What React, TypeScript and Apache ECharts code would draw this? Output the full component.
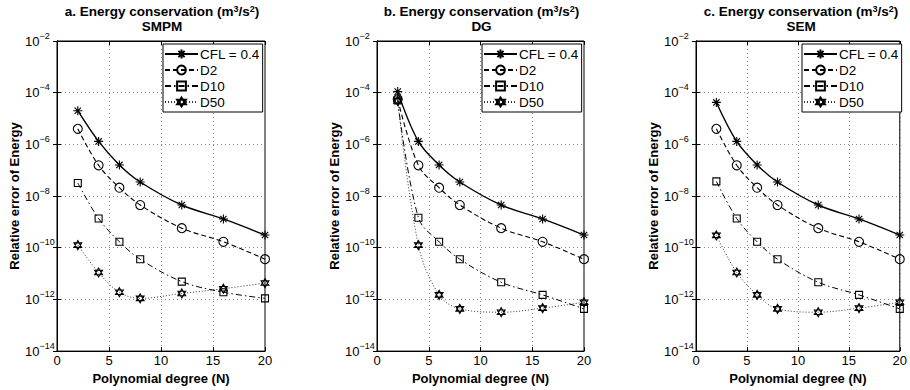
import React, { useEffect, useRef } from "react";
import * as echarts from "echarts";

// ---------- data ----------
const degrees = [2, 4, 6, 8, 12, 16, 20];

const smpmCFL = [2e-5, 1.3e-6, 1.6e-7, 3.5e-8, 4.5e-9, 1.3e-9, 3.1e-10];
const smpmD2 = [4e-6, 1.55e-7, 2.1e-8, 4.5e-9, 5.7e-10, 1.7e-10, 3.6e-11];
const smpmD10 = [3.2e-8, 1.35e-9, 1.7e-10, 3.6e-11, 4.9e-12, 1.9e-12, 1.1e-12];
const smpmD50 = [1.26e-10, 1.1e-11, 1.9e-12, 1.1e-12, 1.7e-12, 2.6e-12, 4.3e-12];

const dgCFL = [1.1e-4, 1.3e-6, 1.6e-7, 3.5e-8, 4.5e-9, 1.3e-9, 3.1e-10];
const dgD2 = [5.6e-5, 1.55e-7, 2.1e-8, 4.5e-9, 5.7e-10, 1.7e-10, 3.6e-11];
const dgD10 = [5e-5, 1.45e-9, 1.7e-10, 3.6e-11, 4.6e-12, 1.5e-12, 4.3e-13];
const dgD50 = [4.8e-5, 1.26e-10, 1.5e-12, 4.3e-13, 3.2e-13, 4.6e-13, 7.8e-13];

const semCFL = [4.2e-5, 1.3e-6, 1.6e-7, 3.5e-8, 4.5e-9, 1.3e-9, 3.1e-10];
const semD2 = [4e-6, 1.55e-7, 2.1e-8, 4.5e-9, 5.7e-10, 1.7e-10, 3.6e-11];
const semD10 = [3.7e-8, 1.35e-9, 1.7e-10, 3.6e-11, 4.6e-12, 1.5e-12, 4.3e-13];
const semD50 = [3e-10, 1.1e-11, 1.5e-12, 4.3e-13, 3.2e-13, 4.6e-13, 7.8e-13];

const seriesNames = ["CFL = 0.4", "D2", "D10", "D50"];
const panelLetters = ["a", "b", "c"];
const panelMethods = ["SMPM", "DG", "SEM"];
const panelSeries = [
  [smpmCFL, smpmD2, smpmD10, smpmD50],
  [dgCFL, dgD2, dgD10, dgD50],
  [semCFL, semD2, semD10, semD50],
];
const xAxisLabel = "Polynomial degree (N)";
const yAxisLabel = "Relative error of Energy";

// ---------- styles ----------
const FONT = '"Liberation Sans", Arial, Helvetica, sans-serif';
const gridLefts = [57, 377, 696];
const gridWidths = [208, 207, 208];
const legendLefts = [163, 482, 802];
const GRID_TOP = 41;
const GRID_HEIGHT = 311;

const ASTERISK = "path://M0,-10 L0,10 M-10,0 L10,0 M-7.07,-7.07 L7.07,7.07 M-7.07,7.07 L7.07,-7.07";
const HEXAGRAM = "path://M0,-10 L8.66,5 L-8.66,5 Z M0,10 L8.66,-5 L-8.66,-5 Z";

const seriesLook = [
  { symbol: ASTERISK, size: 9, type: "solid" as any, width: 1.4, color: "#000" },
  { symbol: "circle", size: 9, type: [5, 3] as any, width: 1.1, color: "#000" },
  { symbol: "rect", size: 7, type: [6, 3, 1.5, 3] as any, width: 1, color: "#000" },
  { symbol: HEXAGRAM, size: 9, type: [1, 2] as any, width: 1, color: "#333" },
];

export default function App() {
  const ref = useRef<HTMLDivElement>(null);

  useEffect(() => {
    document.body.style.margin = "0";
    if (!ref.current) return;
    const chart = echarts.init(ref.current, null, { renderer: "svg" });

    const grids = panelLetters.map((_, i) => ({
      left: gridLefts[i],
      top: GRID_TOP,
      width: gridWidths[i],
      height: GRID_HEIGHT,
      show: true,
      borderColor: "#000",
      borderWidth: 1,
      backgroundColor: "#fff",
    }));

    const tickStyle = { show: true, inside: true, length: 4, lineStyle: { color: "#000" } };
    const gridLine = { show: true, lineStyle: { color: "#888", type: [1, 3] as any, width: 1 } };

    const xAxes: any[] = panelLetters.map((_, i) => ({
      type: "value",
      gridIndex: i,
      min: 0,
      max: 20,
      interval: 5,
      name: xAxisLabel,
      nameLocation: "middle",
      nameGap: 17,
      nameTextStyle: { fontFamily: FONT, fontWeight: "bold", fontSize: 13, color: "#000" },
      axisLine: { show: true, lineStyle: { color: "#000", width: 1 } },
      axisTick: tickStyle,
      axisLabel: { fontFamily: FONT, fontSize: 13, color: "#000", margin: 3 },
      splitLine: gridLine,
    }));
    panelLetters.forEach((_, i) => {
      xAxes.push({
        type: "value",
        gridIndex: i,
        position: "top",
        min: 0,
        max: 20,
        interval: 5,
        axisLine: { show: true, lineStyle: { color: "#000", width: 1 } },
        axisTick: tickStyle,
        axisLabel: { show: false },
        splitLine: { show: false },
      });
    });

    const yAxes: any[] = panelLetters.map((_, i) => ({
      type: "log",
      logBase: 10,
      gridIndex: i,
      min: 1e-14,
      max: 1e-2,
      interval: 2,
      name: yAxisLabel,
      nameLocation: "middle",
      nameRotate: 90,
      nameGap: 36,
      nameTextStyle: { fontFamily: FONT, fontWeight: "bold", fontSize: 13, color: "#000" },
      axisLine: { show: true, lineStyle: { color: "#000", width: 1 } },
      axisTick: tickStyle,
      minorTick: { show: false },
      axisLabel: {
        fontFamily: FONT,
        color: "#000",
        margin: 32,
        align: "left",
        formatter: (v: number) => {
          const e = Math.round(Math.log10(v));
          return "{b|10}{s|" + (e < 0 ? "\u2212" + Math.abs(e) : String(e)) + "}";
        },
        rich: {
          b: { fontFamily: FONT, fontSize: 13, color: "#000", lineHeight: 20, verticalAlign: "middle" },
          s: { fontFamily: FONT, fontSize: 9, color: "#000", lineHeight: 10, verticalAlign: "top" },
        },
      },
      splitLine: gridLine,
    }));
    panelLetters.forEach((_, i) => {
      yAxes.push({
        type: "log",
        logBase: 10,
        gridIndex: i,
        position: "right",
        min: 1e-14,
        max: 1e-2,
        interval: 2,
        axisLine: { show: true, lineStyle: { color: "#000", width: 1 } },
        axisTick: tickStyle,
        minorTick: { show: false },
        axisLabel: { show: false },
        splitLine: { show: false },
      });
    });

    const series: any[] = [];
    panelSeries.forEach((group, p) => {
      group.forEach((vals, k) => {
        const look = seriesLook[k];
        series.push({
          type: "line",
          name: seriesNames[k],
          xAxisIndex: p,
          yAxisIndex: p,
          data: degrees.map((d, j) => [d, vals[j]]),
          smooth: 0.35,
          symbol: look.symbol,
          symbolSize: look.size,
          symbolKeepAspect: true,
          showAllSymbol: true,
          lineStyle: { color: look.color, width: look.width, type: look.type },
          itemStyle: { color: "none", borderColor: "#000", borderWidth: 1.1 },
          emphasis: { disabled: true },
          z: 10 - k,
        });
      });
    });

    const titles = panelLetters.map((l, i) => ({
      text: l + ". Energy conservation (m{s|3}/s{s|2})\n" + panelMethods[i],
      left: gridLefts[i] + gridWidths[i] / 2 + 1,
      top: 4,
      padding: 0,
      textAlign: "center",
      textStyle: {
        fontFamily: FONT,
        fontWeight: "bold",
        fontSize: 13.5,
        color: "#000",
        lineHeight: 15,
        rich: {
          s: { fontFamily: FONT, fontWeight: "bold", fontSize: 9, color: "#000", lineHeight: 9, verticalAlign: "top" },
        },
      },
    }));

    const legends = panelLetters.map((_, i) => ({
      orient: "vertical",
      left: legendLefts[i],
      top: 44,
      data: seriesNames,
      itemWidth: 33,
      itemHeight: 11,
      itemGap: 0,
      padding: [2, 3, 2, 1],
      borderColor: "#000",
      borderWidth: 1,
      backgroundColor: "#fff",
      selectedMode: false,
      textStyle: { fontFamily: FONT, fontSize: 13.5, color: "#000", lineHeight: 16, padding: [0, 0, 0, -3] },
    }));

    chart.setOption({
      animation: false,
      title: titles,
      legend: legends,
      grid: grids,
      xAxis: xAxes,
      yAxis: yAxes,
      series,
    });

    return () => chart.dispose();
  }, []);

  return <div ref={ref} style={{ width: 910, height: 390 }} />;
}
